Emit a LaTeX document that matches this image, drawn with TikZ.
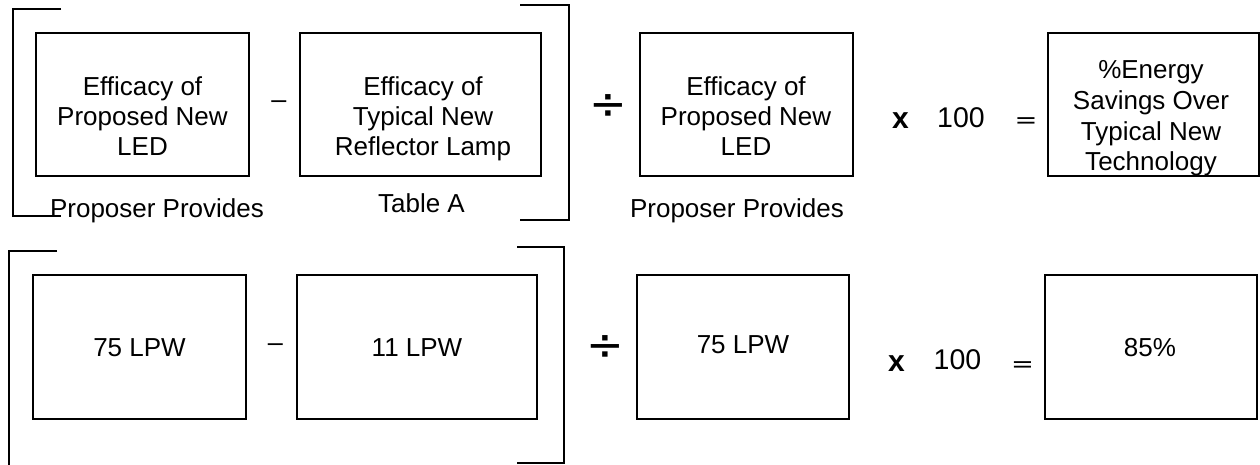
\documentclass[tikz,border=0pt]{standalone}
\usepackage{fontspec}
\usepackage{graphicx}
\setmainfont{Liberation Sans}
\newfontfamily\djv{DejaVu Sans}
\begin{document}
\begin{tikzpicture}[x=1pt,y=-1pt,
  box/.style={draw, line width=1.8pt, inner sep=0pt},
  lbl/.style={inner sep=0pt, font=\fontsize{26}{30}\selectfont},
  multi/.style={lbl, align=center},
  divop/.style={inner sep=0pt, font=\djv\fontsize{45}{50}\selectfont},
  timesop/.style={inner sep=0pt, anchor=base, font=\bfseries\fontsize{30}{34}\selectfont},
  hundred/.style={inner sep=0pt, anchor=base, font=\fontsize{28.5}{32}\selectfont},
  eqop/.style={inner sep=0pt, anchor=base, font=\bfseries\fontsize{34}{38}\selectfont},
  minusop/.style={inner sep=0pt, anchor=base, font=\fontsize{27}{30}\selectfont},
  brk/.style={line width=1.8pt}]
\useasboundingbox (0,0) rectangle (1260,465);

% ---------- row 1 ----------
\node[box, minimum width=213pt, minimum height=143pt] (b1) at (142.5,104.5) {};
\node[box, minimum width=241pt, minimum height=143pt] (b2) at (420.5,104.5) {};
\node[box, minimum width=213pt, minimum height=143pt] (b3) at (746.5,104.5) {};
\node[box, minimum width=211pt, minimum height=143pt] (b4) at (1153.5,104.5) {};

\begin{scope}
\clip (b1.south west) rectangle (b1.north east);
\node[multi] (t1) at (142.5,116) {Efficacy of\\Proposed New\\LED};
\end{scope}
\begin{scope}
\clip (b2.south west) rectangle (b2.north east);
\node[multi] (t2) at (423,118.6) {Efficacy of\\Typical New\\Reflector Lamp};
\end{scope}
\begin{scope}
\clip (b3.south west) rectangle (b3.north east);
\node[multi] (t3) at (746,116) {Efficacy of\\Proposed New\\LED};
\end{scope}
\begin{scope}
\clip (b4.south west) rectangle (b4.north east);
\node[multi, font=\fontsize{26}{30.7}\selectfont] (t4) at (1151,118.5) {\%Energy\\Savings Over\\Typical New\\Technology};
\end{scope}

\node[lbl, anchor=base] (p1) at (157,217) {Proposer Provides};
\node[lbl, anchor=base] (ta) at (421.5,212) {Table A};
\node[lbl, anchor=base] (p2) at (737,217) {Proposer Provides};

\node[minusop] (m1) at (279,108.5) {\textendash};
\node[divop] (d1) at (608,107) {÷};
\node[timesop] (x1) at (900.5,128.3) {x};
\node[hundred] (h1) at (961,127.3) {100};
\node[eqop] (e1) at (1026,127) {\scalebox{1}[0.5]{=}};

\draw[brk] (61,9) -- (13,9) -- (13,216) -- (61,216);
\draw[brk] (520,5) -- (569,5) -- (569,220) -- (520,220);

% ---------- row 2 ----------
\node[box, minimum width=213pt, minimum height=144pt] (c1) at (139.5,347) {};
\node[box, minimum width=240pt, minimum height=144pt] (c2) at (417,347) {};
\node[box, minimum width=212pt, minimum height=144pt] (c3) at (743,347) {};
\node[box, minimum width=212pt, minimum height=144pt] (c4) at (1151,347) {};

\node[lbl, anchor=base] (u1) at (139.5,356) {75 LPW};
\node[lbl, anchor=base] (u2) at (417,356) {11 LPW};
\node[lbl, anchor=base] (u3) at (743,353) {75 LPW};
\node[lbl, anchor=base] (u4) at (1150,356) {85\%};

\node[minusop] (m2) at (275.5,351) {\textendash};
\node[divop] (d2) at (605,348) {÷};
\node[timesop] (x2) at (896.5,371.7) {x};
\node[hundred] (h2) at (957.5,369.3) {100};
\node[eqop] (e2) at (1022.5,370) {\scalebox{1}[0.5]{=}};

\draw[brk] (57,251) -- (9,251) -- (9,466);
\draw[brk] (517,247) -- (564,247) -- (564,463) -- (517,463);
\end{tikzpicture}
\end{document}
